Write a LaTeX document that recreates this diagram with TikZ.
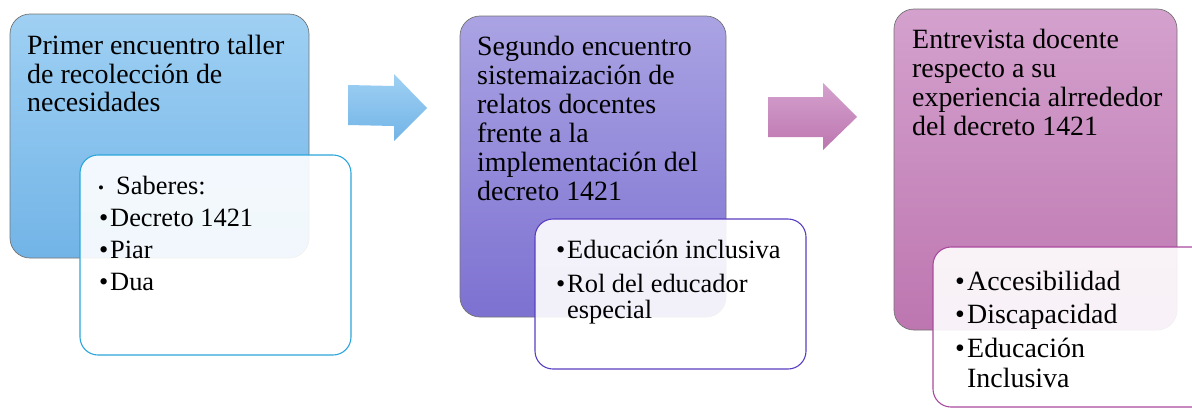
\documentclass[tikz,border=0pt]{standalone}
\usepackage{fontspec}
\setmainfont{Liberation Serif}
\begin{document}
\begin{tikzpicture}[x=1bp,y=-1bp,
  outerbox/.style={draw=black!55,line width=0.7bp,rounded corners=20bp},
  innerbox/.style={fill=white,fill opacity=0.9,line width=1.1bp,rounded corners=18bp},
  txt/.style={anchor=base west,inner sep=0pt,font=\fontsize{28}{29}\selectfont,text=black},
  itxt/.style={anchor=base west,inner sep=0pt,font=\fontsize{26.5}{29}\selectfont,text=black},
  bul/.style={anchor=base west,inner sep=0pt,font=\fontsize{26.5}{29}\selectfont,text=black},
  blockarrow/.style={draw=none}]
\definecolor{bluetop}{HTML}{9FD0F3}
\definecolor{bluebot}{HTML}{72B4E7}
\definecolor{purtop}{HTML}{AAA3E3}
\definecolor{purbot}{HTML}{7D71D1}
\definecolor{pinktop}{HTML}{D4A1CD}
\definecolor{pinkbot}{HTML}{BD76B0}
\definecolor{cyanline}{HTML}{2BA6DC}
\definecolor{purline}{HTML}{5A3EC2}
\definecolor{pinkline}{HTML}{A94A9C}
\useasboundingbox (0,0) rectangle (1192,408);
\clip (0,0) rectangle (1192,408);

% outer boxes
\shade[outerbox,top color=bluetop,bottom color=bluebot] (10,14) rectangle (309,258);
\shade[outerbox,top color=purtop,bottom color=purbot] (460,16) rectangle (726,317);
\shade[outerbox,top color=pinktop,bottom color=pinkbot] (894,9) rectangle (1177,330);

% block arrows
\shade[blockarrow,top color=bluetop,bottom color=bluebot]
  (348,85) -- (394,86) -- (394,74) -- (427,108) -- (394,141) -- (394,126) -- (348,125) -- cycle;
\shade[blockarrow,top color=pinktop,bottom color=pinkbot]
  (768,97) -- (823,97) -- (823,83) -- (857,117) -- (823,150) -- (823,137) -- (768,137) -- cycle;

% inner boxes
\draw[innerbox,draw=cyanline] (80,155) rectangle (351,355);
\draw[innerbox,draw=purline] (535,219) rectangle (806,369);
\draw[innerbox,draw=pinkline] (933,247) rectangle (1240,407);

% texts box 1
\node[txt] (a1) at (27,54) {Primer encuentro taller};
\node[txt] (a2) at (27,83) {de recolección de};
\node[txt] (a3) at (27,111) {necesidades};
\node[bul,font=\fontsize{17}{17}\selectfont] (a4b) at (98,193) {•};
\node[itxt] (a4) at (116,194) {Saberes:};
\node[bul] (a5b) at (99,226) {•};
\node[itxt] (a5) at (110,226) {Decreto 1421};
\node[bul] (a6b) at (99,258) {•};
\node[itxt] (a6) at (110,258) {Piar};
\node[bul] (a7b) at (99,290) {•};
\node[itxt] (a7) at (110,290) {Dua};

% texts box 2
\node[txt] (b1) at (477,55) {Segundo encuentro};
\node[txt] (b2) at (477,84) {sistemaización de};
\node[txt] (b3) at (477,113) {relatos docentes};
\node[txt] (b4) at (477,142) {frente a la};
\node[txt] (b5) at (477,171) {implementación del};
\node[txt] (b6) at (477,200) {decreto 1421};
\node[bul] (b7b) at (556,258) {•};
\node[itxt] (b7) at (567,258) {Educación inclusiva};
\node[bul] (b8b) at (556,292) {•};
\node[itxt] (b8) at (567,292) {Rol del educador};
\node[itxt] (b9) at (567,318) {especial};

% texts box 3
\node[txt] (c1) at (912,48) {Entrevista docente};
\node[txt] (c2) at (912,77) {respecto a su};
\node[txt] (c3) at (912,106) {experiencia alrrededor};
\node[txt] (c4) at (912,135) {del decreto 1421};
\node[bul,font=\fontsize{28}{29}\selectfont] (c5b) at (955,290) {•};
\node[txt] (c5) at (967,290) {Accesibilidad};
\node[bul,font=\fontsize{28}{29}\selectfont] (c6b) at (955,323) {•};
\node[txt] (c6) at (967,323) {Discapacidad};
\node[bul,font=\fontsize{28}{29}\selectfont] (c7b) at (955,357) {•};
\node[txt] (c7) at (967,357) {Educación};
\node[txt] (c8) at (967,387) {Inclusiva};
\end{tikzpicture}
\end{document}
